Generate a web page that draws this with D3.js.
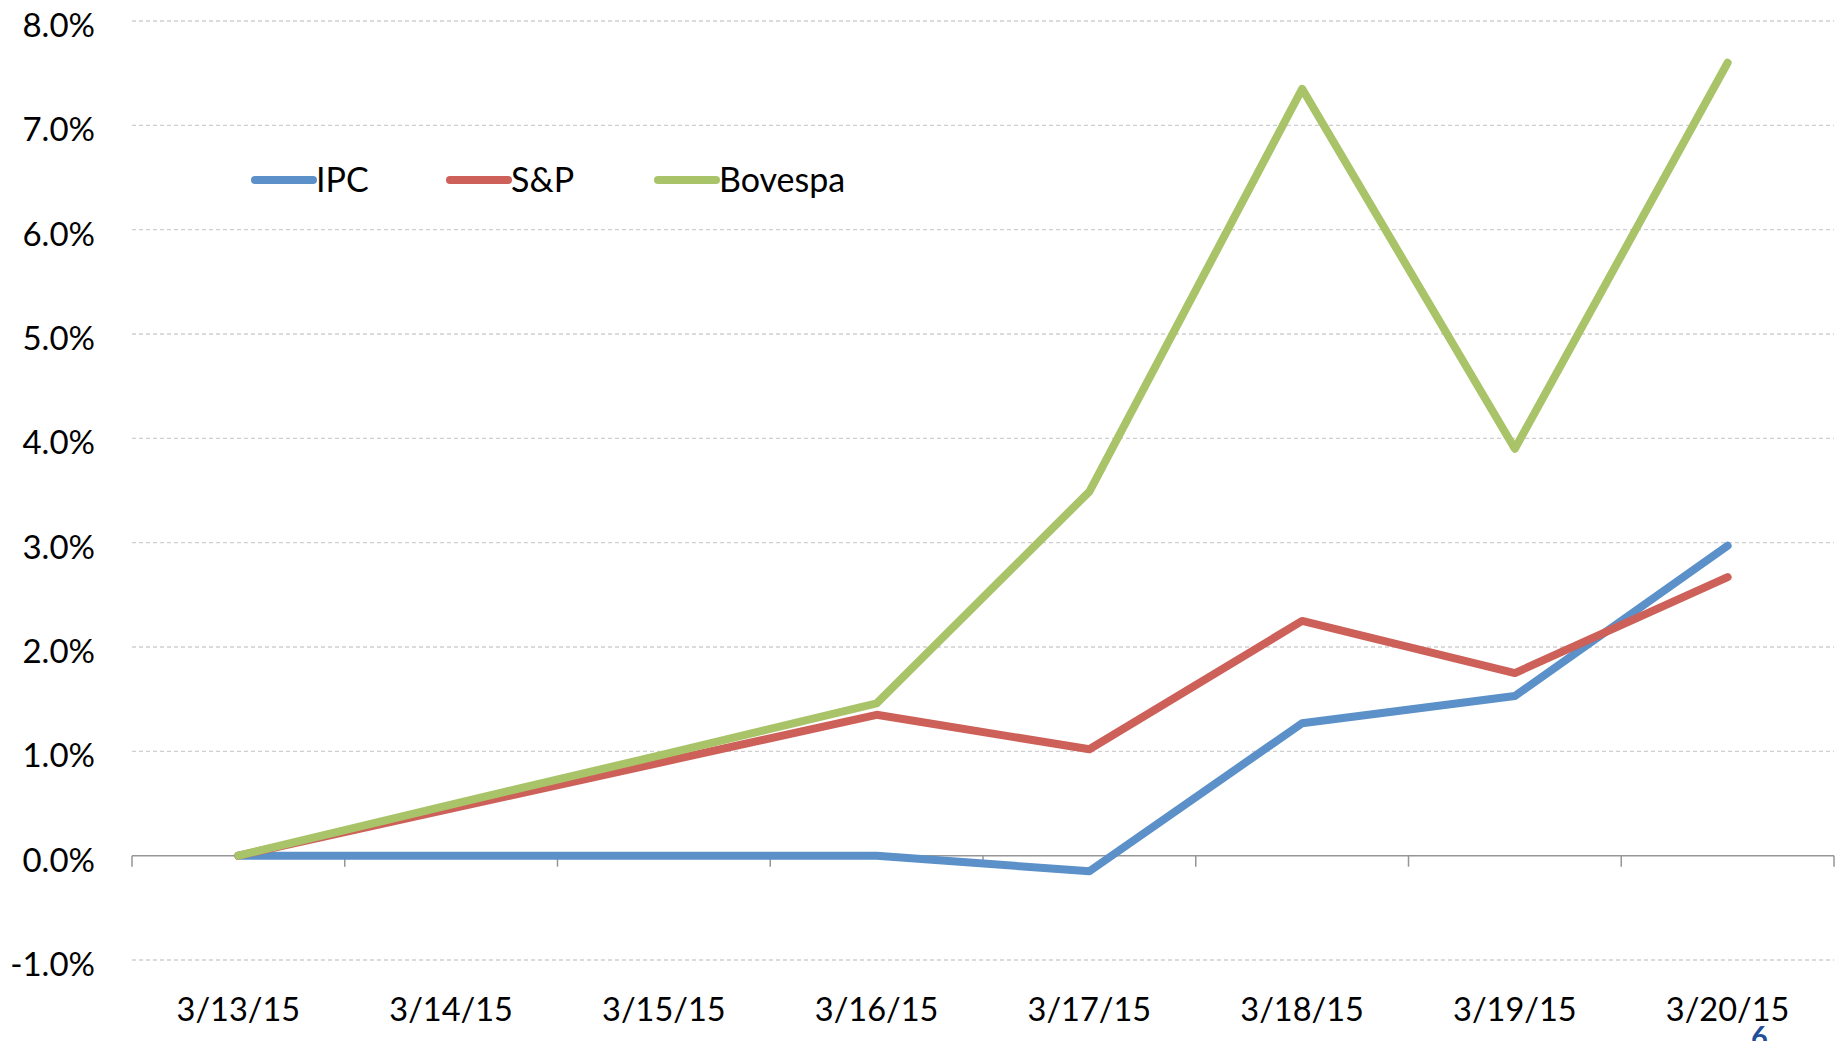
<!DOCTYPE html>
<html>
<head>
<meta charset="utf-8">
<script src="https://cdn.jsdelivr.net/npm/d3@7"></script>
<style>
  body { margin: 0; background: #fff; }
  text { font-family: Lato, "Open Sans", sans-serif; fill: #000; }
</style>
</head>
<body>
<div id="chart"></div>
<script>
'use strict';
var dates = ['3/13/15', '3/14/15', '3/15/15', '3/16/15', '3/17/15', '3/18/15', '3/19/15', '3/20/15'];
var ipc = [0, 0, 0, 0, -0.15, 1.27, 1.53, 2.97];
var sp = [0, 0.45, 0.90, 1.35, 1.02, 2.25, 1.75, 2.67];
var bovespa = [0, 0.49, 0.97, 1.46, 3.49, 7.35, 3.90, 7.60];
var yTicks = [-1, 0, 1, 2, 3, 4, 5, 6, 7, 8];

var seriesNames = ['IPC', 'S&P', 'Bovespa'];
var seriesColors = ['#5b90c8', '#cd6058', '#a9c468'];
var seriesValues = [ipc, sp, bovespa];

var width = 1845,
    height = 1041;

var svg = d3.select('#chart').append('svg')
    .attr('width', width)
    .attr('height', height);

var x = d3.scaleBand().domain(dates).range([132, 1834]);
var y = d3.scaleLinear().domain([-1, 8]).range([960, 21]);
var cx = function (d) { return x(d) + x.bandwidth() / 2; };

// gridlines
svg.append('g').attr('class', 'grid')
    .selectAll('line')
    .data(yTicks.filter(function (t) { return t !== 0; }))
    .enter().append('line')
    .attr('x1', 132).attr('x2', 1834)
    .attr('y1', function (d) { return y(d); })
    .attr('y2', function (d) { return y(d); })
    .attr('stroke', '#cfcfcf')
    .attr('stroke-width', 1.3)
    .attr('stroke-dasharray', '4,3');

// y labels
svg.append('g').selectAll('text')
    .data(yTicks)
    .enter().append('text')
    .attr('x', 95)
    .attr('y', function (d) { return y(d) + 16; })
    .attr('text-anchor', 'end')
    .style('font-size', '33px')
    .text(function (d) { return d.toFixed(1) + '%'; });

// x axis line with ticks between categories
var axisG = svg.append('g').attr('class', 'x-axis');
axisG.append('line')
    .attr('x1', 132).attr('x2', 1834)
    .attr('y1', y(0)).attr('y2', y(0))
    .attr('stroke', '#969696').attr('stroke-width', 1.5);
axisG.selectAll('line.tick')
    .data(dates.map(function (d) { return x(d); }).concat([x.range()[1]]))
    .enter().append('line')
    .attr('class', 'tick')
    .attr('x1', function (d) { return d; }).attr('x2', function (d) { return d; })
    .attr('y1', y(0)).attr('y2', y(0) + 11)
    .attr('stroke', '#969696').attr('stroke-width', 1.5);

// x labels
svg.append('g').selectAll('text')
    .data(dates)
    .enter().append('text')
    .attr('x', cx)
    .attr('y', 1021)
    .attr('text-anchor', 'middle')
    .style('font-size', '32.5px')
    .text(function (d) { return d; });

// lines
var line = d3.line()
    .x(function (d, i) { return cx(dates[i]); })
    .y(function (d) { return y(d); });

svg.append('g').selectAll('path')
    .data(seriesValues)
    .enter().append('path')
    .attr('d', line)
    .attr('fill', 'none')
    .attr('stroke', function (d, i) { return seriesColors[i]; })
    .attr('stroke-width', 8)
    .attr('stroke-linecap', 'round')
    .attr('stroke-linejoin', 'round');

// legend
var legendX = [255, 450, 658];
var legend = svg.append('g').selectAll('g')
    .data(seriesNames)
    .enter().append('g')
    .attr('transform', function (d, i) { return 'translate(' + legendX[i] + ',180)'; });
legend.append('line')
    .attr('x1', 0).attr('x2', 58)
    .attr('stroke', function (d, i) { return seriesColors[i]; })
    .attr('stroke-width', 8)
    .attr('stroke-linecap', 'round');
legend.append('text')
    .attr('x', 61).attr('y', 12)
    .style('font-size', '34px')
    .text(function (d) { return d; });

// page number
svg.append('text')
    .attr('x', 1751).attr('y', 1047)
    .style('font-size', '29px')
    .style('font-weight', 'bold')
    .style('fill', '#1f4e9b')
    .text('6');
</script>
</body>
</html>
